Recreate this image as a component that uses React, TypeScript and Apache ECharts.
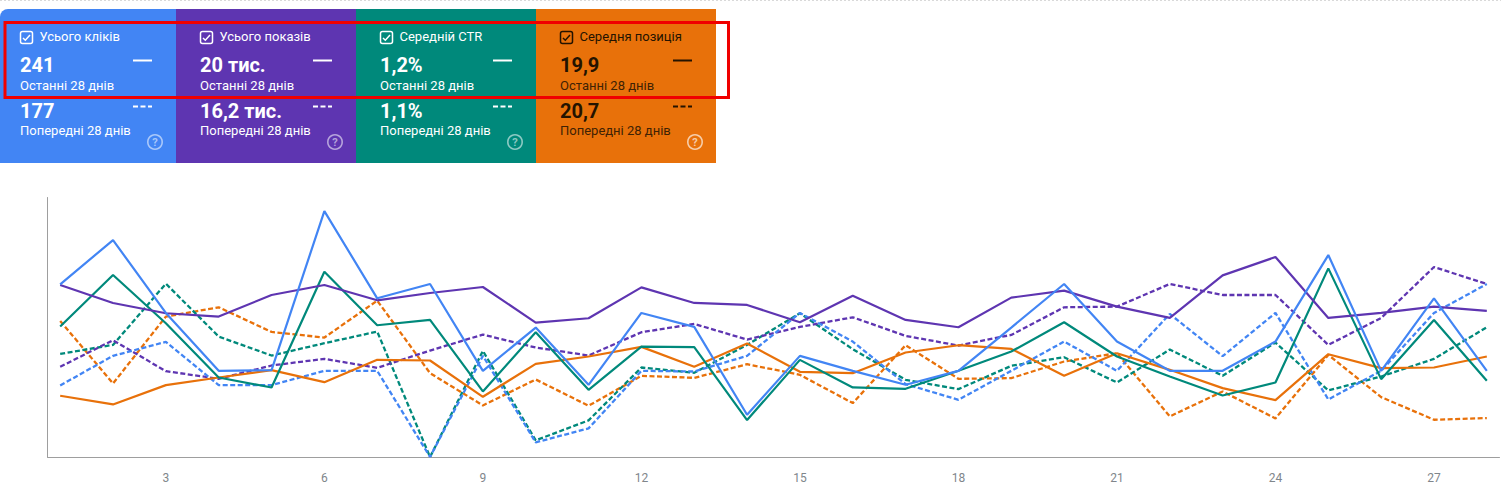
import React, { useEffect, useRef } from "react";
import * as echarts from "echarts";

const days = Array.from({ length: 28 }, (_, i) => i + 1);
const tickDays = [3, 6, 9, 12, 15, 18, 21, 24, 27];

const clicks = [519,652,433,259,261,739,477,520,259,389,217,433,391,127,304,259,217,259,389,520,347,259,259,347,607,259,477,259];
const ctr = [392,547,402,239,209,557,396,412,197,375,202,332,330,111,292,209,205,259,317,405,302,242,185,224,567,234,412,229];
const impressions = [517,463,432,422,487,517,471,493,511,404,417,510,463,457,405,485,412,390,479,500,452,418,546,601,418,433,452,439];
const position = [184,158,216,239,261,225,292,290,181,280,302,331,271,341,256,252,314,336,325,244,312,262,207,171,309,267,269,302];
const clicksPrev = [215,304,346,216,216,259,259,0,304,44,86,259,257,304,433,347,219,172,259,347,259,430,303,433,173,259,433,520];
const ctrPrev = [310,337,521,362,305,342,377,0,319,50,110,269,253,337,432,324,232,204,274,300,224,323,244,344,200,242,295,390];
const impressionsPrev = [271,351,258,235,275,295,268,320,368,329,305,375,400,353,391,420,364,335,367,450,452,520,487,487,337,418,571,520];
const positionPrev = [409,221,422,450,376,359,470,252,155,233,154,244,238,279,247,162,336,235,237,287,312,122,197,116,307,180,112,117];

const BLUE = "#4285f4";
const PURPLE = "#5e35b1";
const TEAL = "#00897b";
const ORANGE = "#e8710a";

const cardTitles = ["Усього кліків", "Усього показів", "Середній CTR", "Середня позиція"];
const cardCurrent = ["241", "20 тис.", "1,2%", "19,9"];
const cardPrevious = ["177", "16,2 тис.", "1,1%", "20,7"];
const currentLabel = "Останні 28 днів";
const previousLabel = "Попередні 28 днів";
const FONT = "Roboto, sans-serif";

function card(i: number) {
  const bg = [BLUE, PURPLE, TEAL, ORANGE][i];
  const x0 = i === 0 ? 0 : 176 + (i - 1) * 180;
  const w = i === 0 ? 176 : 180;
  const left = i === 0 ? 20 : x0 + 24;
  const right = x0 + w;
  const fg = i === 3 ? "#241300" : "#ffffff";
  const sub = i === 3 ? "#3f2204" : "#ffffff";
  const helpColor = i === 3 ? "rgba(255,255,255,0.65)" : "rgba(255,255,255,0.55)";
  const text = (x: number, y: number, t: string, size: number, weight: number, fill: string) => ({
    type: "text",
    x,
    y,
    style: { text: t, font: `${weight} ${size}px ${FONT}`, fill, textVerticalAlign: "middle", verticalAlign: "middle" },
  });
  return [
    {
      type: "rect",
      shape: { x: x0, y: 9, width: w, height: 154, r: i === 0 ? [8, 0, 0, 0] : 0 },
      style: { fill: bg },
    },
    {
      type: "rect",
      shape: { x: left + 0.5, y: 31.5, width: 12, height: 12, r: 2 },
      style: { fill: "transparent", stroke: fg, lineWidth: 1.5 },
    },
    {
      type: "polyline",
      shape: { points: [[left + 3, 38], [left + 5.3, 40.2], [left + 10, 35]] },
      style: { fill: "none", stroke: fg, lineWidth: 1.5 },
    },
    text(left + 19.5, 36.5, cardTitles[i], 13, 400, fg),
    text(left, 65, cardCurrent[i], 20, 700, fg),
    text(left, 85, currentLabel, 13, 400, sub),
    text(left, 111, cardPrevious[i], 20, 700, fg),
    text(left, 130, previousLabel, 13, 400, sub),
    {
      type: "line",
      shape: { x1: right - 43, y1: 60.5, x2: right - 24, y2: 60.5 },
      style: { stroke: fg, lineWidth: 2 },
    },
    {
      type: "line",
      shape: { x1: right - 43, y1: 106.5, x2: right - 24, y2: 106.5 },
      style: { stroke: fg, lineWidth: 2, lineDash: [5, 2.5] },
    },
    {
      type: "circle",
      shape: { cx: right - 21, cy: 142, r: 7.2 },
      style: { fill: "transparent", stroke: helpColor, lineWidth: 1.6 },
    },
    {
      type: "text",
      x: right - 21,
      y: 142,
      style: { text: "?", font: `700 11px ${FONT}`, fill: helpColor, align: "center", verticalAlign: "middle" },
    },
  ];
}

function line(name: string, values: number[], color: string, dashed: boolean) {
  return {
    name,
    type: "line",
    data: values.map((v, i) => [days[i], v]),
    showSymbol: false,
    symbol: "none",
    smooth: false,
    silent: true,
    lineStyle: dashed
      ? { color, width: 2.3, type: [5, 2.5] as number[] }
      : { color, width: 2.2 },
  };
}

export default function App() {
  const ref = useRef<HTMLDivElement>(null);
  useEffect(() => {
    document.body.style.margin = "0";
    const chart = echarts.init(ref.current!, undefined, { renderer: "svg" });
    chart.setOption({
      animation: false,
      backgroundColor: "#ffffff",
      grid: { left: 47.5, top: 197.5, width: 1452, height: 259.5 },
      xAxis: {
        type: "value",
        min: 0.76,
        max: 28.24,
        splitLine: { show: false },
        axisTick: { show: false },
        axisLine: { show: true, onZero: false, lineStyle: { color: "#9e9e9e", width: 1 } },
        axisLabel: {
          customValues: tickDays,
          color: "#80868b",
          fontFamily: FONT,
          fontSize: 12,
          margin: 15,
        },
      },
      yAxis: {
        type: "value",
        min: 0,
        max: 780,
        splitLine: { show: false },
        axisTick: { show: false },
        axisLabel: { show: false },
        axisLine: { show: true, onZero: false, lineStyle: { color: "#9e9e9e", width: 1 } },
      },
      series: [
        line("Позиція, попередні", positionPrev, ORANGE, true),
        line("CTR, попередні", ctrPrev, TEAL, true),
        line("Показів, попередні", impressionsPrev, PURPLE, true),
        line("Кліків, попередні", clicksPrev, BLUE, true),
        line("Позиція", position, ORANGE, false),
        line("CTR", ctr, TEAL, false),
        line("Показів", impressions, PURPLE, false),
        line("Кліків", clicks, BLUE, false),
      ],
      graphic: [
        {
          type: "line",
          shape: { x1: 0, y1: 0.5, x2: 1501, y2: 0.5 },
          style: { stroke: "#d9d9d9", lineWidth: 1, lineDash: [2, 2] },
        },
        ...[0, 1, 2, 3].flatMap((i) => card(i)),
        {
          type: "rect",
          shape: { x: 5, y: 22.5, width: 723.5, height: 75 },
          style: { fill: "transparent", stroke: "#f00000", lineWidth: 3 },
          z: 100,
        },
      ],
    });
    return () => chart.dispose();
  }, []);
  return <div ref={ref} style={{ width: 1501, height: 494 }} />;
}
